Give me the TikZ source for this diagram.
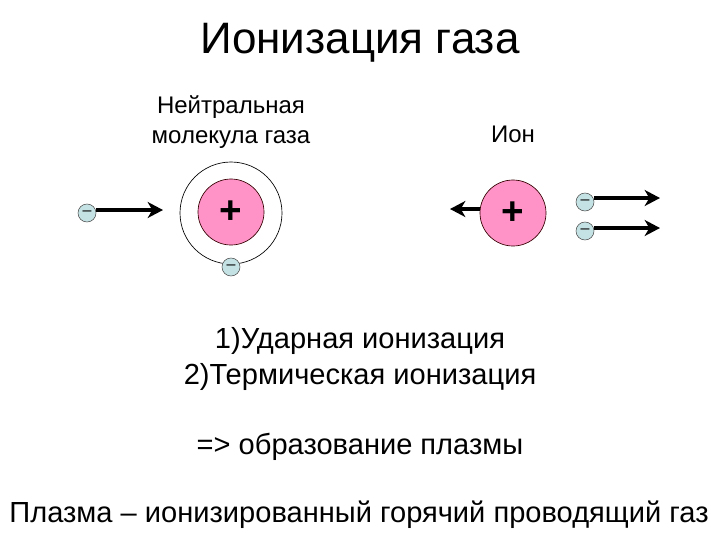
\documentclass[tikz,border=0pt]{standalone}
\usepackage{fontspec}
\setmainfont{Liberation Sans}
\usetikzlibrary{positioning, arrows.meta}
\definecolor{nucpink}{HTML}{FF92C6}
\definecolor{elblue}{HTML}{C4E2E4}

\begin{document}
\begin{tikzpicture}[
    x=0.75pt, y=-0.75pt,
    nucleus/.style={circle, draw=black!80!red, fill=nucpink, line width=0.5pt, minimum size=49.5pt, inner sep=0pt, font=\fontsize{29}{29}\bfseries},
    orbit/.style={circle, draw, line width=0.5pt, minimum size=76.5pt, inner sep=0pt},
    electron/.style={circle, draw=black!70, fill=elblue, line width=0.4pt, minimum size=13.5pt, inner sep=0pt, font=\fontsize{12}{12}\selectfont},
    myarrow/.style={-{Stealth[length=11.5pt, width=12pt, inset=3.5pt]}, line width=2.8pt},
    caption/.style={align=center, font=\fontsize{18}{22}\selectfont},
    bigtext/.style={font=\fontsize{21.8}{26}\selectfont}]

\useasboundingbox (0,0) rectangle (720,540);

\node[font=\fontsize{33}{33}\selectfont] (title) at (360,43) {Ионизация газа};
\node[caption] (neutral) at (231,122) {Нейтральная\\молекула газа};
\node[caption] (ionlabel) at (513,134) {Ион};

\node[orbit] (orbit) at (231,213) {};
\node[nucleus] (nuc1) at (231,212) {\raisebox{-4.5pt}{+}};
\node[electron] (el1) at (87,213) {\raisebox{-1.5pt}{–}};
\node[electron] (el2) at (231,267) {\raisebox{-1.5pt}{–}};
\coordinate (a1) at (163,210);
\draw[myarrow] (el1.east |- a1) -- (a1);

\node[nucleus] (nuc2) at (513,213) {\raisebox{-4pt}{+}};
\coordinate (a2) at (450,209);
\draw[myarrow] (nuc2.west |- a2) -- (a2);

\node[electron] (el3) at (585,202) {\raisebox{-1.5pt}{–}};
\node[electron] (el4) at (585,231) {\raisebox{-1.5pt}{–}};
\coordinate (a3) at (660,198);
\coordinate (a4) at (660,228);
\draw[myarrow] (el3.east |- a3) -- (a3);
\draw[myarrow] (el4.east |- a4) -- (a4);

\node[bigtext] (line1) at (360,341) {1)Ударная ионизация};
\node[bigtext] (line2) at (360,377) {2)Термическая ионизация};
\node[bigtext] (line3) at (360,447) {=> образование плазмы};
\node[bigtext] (line4) at (359,515) {Плазма – ионизированный горячий проводящий газ};
\end{tikzpicture}
\end{document}
